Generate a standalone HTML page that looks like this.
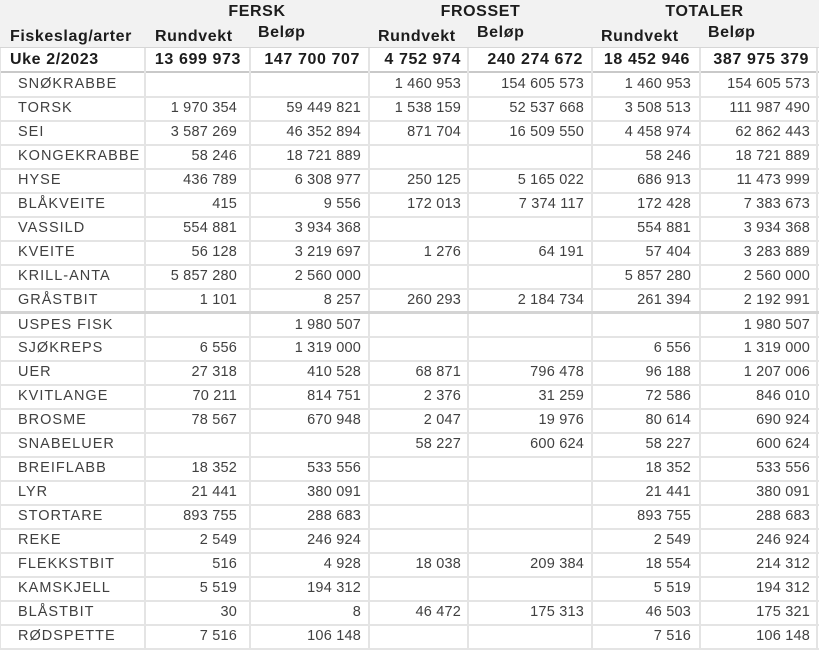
<!DOCTYPE html>
<html><head><meta charset="utf-8">
<style>
*{margin:0;padding:0;box-sizing:border-box}
html,body{width:819px;height:650px;overflow:hidden;background:#fff}
body{position:relative;font-family:"Liberation Sans",Arial,sans-serif}
.hbg{position:absolute;left:0;top:0;width:819px;height:48px;background:#f2f2f2}
.h{position:absolute;font-weight:bold;font-size:16px;letter-spacing:0.6px;color:#1c1c1c;white-space:nowrap;line-height:24px;height:24px}
.hl{position:absolute;left:0;width:819px;background:#e4e4e4;height:2px}
.vl{position:absolute;top:48px;height:602px;width:2px;background:#e4e4e4}
.row{position:absolute;left:0;width:819px;height:24px;line-height:24px;font-size:14.5px;color:#404040;letter-spacing:0.2px;white-space:nowrap}
.row div{position:absolute;top:0}
.n{left:18px;letter-spacing:1px}
.c2{right:582px}.c3{right:458px}.c4{right:358px}.c5{right:235px}.c6{right:128px}.c7{right:9px}
.uk{position:absolute;left:0;top:48px;width:819px;height:24px;line-height:24px;font-size:16px;font-weight:bold;letter-spacing:0.6px;color:#1c1c1c;white-space:nowrap}
.uk div{position:absolute;top:0}
</style></head><body>
<div class="hbg"></div>

<div class="h" style="left:145px;width:224px;text-align:center;top:0">FERSK</div>
<div class="h" style="left:369px;width:223px;text-align:center;top:0">FROSSET</div>
<div class="h" style="left:592px;width:225px;text-align:center;top:0">TOTALER</div>

<div class="h" style="left:10px;top:25px">Fiskeslag/arter</div>
<div class="h" style="left:155px;top:25px">Rundvekt</div>
<div class="h" style="left:258px;top:21px">Beløp</div>
<div class="h" style="left:378px;top:25px">Rundvekt</div>
<div class="h" style="left:477px;top:21px">Beløp</div>
<div class="h" style="left:601px;top:25px">Rundvekt</div>
<div class="h" style="left:708px;top:21px">Beløp</div>

<div class="hl" style="top:47px;height:1px;background:#d6d6d6"></div>
<div class="hl" style="top:71px;background:#c9c9c9"></div>

<div class="vl" style="left:0;width:1px"></div>
<div class="vl" style="left:144px"></div>
<div class="vl" style="left:249px"></div>
<div class="vl" style="left:368px"></div>
<div class="vl" style="left:467px"></div>
<div class="vl" style="left:591px"></div>
<div class="vl" style="left:699px"></div>
<div class="vl" style="left:816px"></div>

<div class="hl" style="top:96px"></div>
<div class="hl" style="top:120px"></div>
<div class="hl" style="top:144px"></div>
<div class="hl" style="top:168px"></div>
<div class="hl" style="top:192px"></div>
<div class="hl" style="top:216px"></div>
<div class="hl" style="top:240px"></div>
<div class="hl" style="top:264px"></div>
<div class="hl" style="top:288px"></div>
<div class="hl" style="top:311px;height:3px;background:#d4d4d4"></div>
<div class="hl" style="top:336px"></div>
<div class="hl" style="top:360px"></div>
<div class="hl" style="top:384px"></div>
<div class="hl" style="top:408px"></div>
<div class="hl" style="top:432px"></div>
<div class="hl" style="top:456px"></div>
<div class="hl" style="top:480px"></div>
<div class="hl" style="top:504px"></div>
<div class="hl" style="top:528px"></div>
<div class="hl" style="top:552px"></div>
<div class="hl" style="top:576px"></div>
<div class="hl" style="top:600px"></div>
<div class="hl" style="top:624px"></div>
<div class="hl" style="top:648px"></div>

<div class="uk">
<div style="left:10px">Uke 2/2023</div>
<div class="c2" style="right:578px">13 699 973</div>
<div class="c3" style="right:459px">147 700 707</div>
<div class="c4">4 752 974</div>
<div class="c5" style="right:236px">240 274 672</div>
<div class="c6" style="right:129px">18 452 946</div>
<div class="c7" style="right:10px">387 975 379</div>
</div>

<div class="row" style="top:72px"><div class="n">SNØKRABBE</div><div class="c4">1 460 953</div><div class="c5">154 605 573</div><div class="c6">1 460 953</div><div class="c7">154 605 573</div></div>
<div class="row" style="top:96px"><div class="n">TORSK</div><div class="c2">1 970 354</div><div class="c3">59 449 821</div><div class="c4">1 538 159</div><div class="c5">52 537 668</div><div class="c6">3 508 513</div><div class="c7">111 987 490</div></div>
<div class="row" style="top:120px"><div class="n">SEI</div><div class="c2">3 587 269</div><div class="c3">46 352 894</div><div class="c4">871 704</div><div class="c5">16 509 550</div><div class="c6">4 458 974</div><div class="c7">62 862 443</div></div>
<div class="row" style="top:144px"><div class="n">KONGEKRABBE</div><div class="c2">58 246</div><div class="c3">18 721 889</div><div class="c6">58 246</div><div class="c7">18 721 889</div></div>
<div class="row" style="top:168px"><div class="n">HYSE</div><div class="c2">436 789</div><div class="c3">6 308 977</div><div class="c4">250 125</div><div class="c5">5 165 022</div><div class="c6">686 913</div><div class="c7">11 473 999</div></div>
<div class="row" style="top:192px"><div class="n">BLÅKVEITE</div><div class="c2">415</div><div class="c3">9 556</div><div class="c4">172 013</div><div class="c5">7 374 117</div><div class="c6">172 428</div><div class="c7">7 383 673</div></div>
<div class="row" style="top:216px"><div class="n">VASSILD</div><div class="c2">554 881</div><div class="c3">3 934 368</div><div class="c6">554 881</div><div class="c7">3 934 368</div></div>
<div class="row" style="top:240px"><div class="n">KVEITE</div><div class="c2">56 128</div><div class="c3">3 219 697</div><div class="c4">1 276</div><div class="c5">64 191</div><div class="c6">57 404</div><div class="c7">3 283 889</div></div>
<div class="row" style="top:264px"><div class="n">KRILL-ANTA</div><div class="c2">5 857 280</div><div class="c3">2 560 000</div><div class="c6">5 857 280</div><div class="c7">2 560 000</div></div>
<div class="row" style="top:288px"><div class="n">GRÅSTBIT</div><div class="c2">1 101</div><div class="c3">8 257</div><div class="c4">260 293</div><div class="c5">2 184 734</div><div class="c6">261 394</div><div class="c7">2 192 991</div></div>
<div class="row" style="top:313px"><div class="n">USPES FISK</div><div class="c3">1 980 507</div><div class="c7">1 980 507</div></div>
<div class="row" style="top:336px"><div class="n">SJØKREPS</div><div class="c2">6 556</div><div class="c3">1 319 000</div><div class="c6">6 556</div><div class="c7">1 319 000</div></div>
<div class="row" style="top:360px"><div class="n">UER</div><div class="c2">27 318</div><div class="c3">410 528</div><div class="c4">68 871</div><div class="c5">796 478</div><div class="c6">96 188</div><div class="c7">1 207 006</div></div>
<div class="row" style="top:384px"><div class="n">KVITLANGE</div><div class="c2">70 211</div><div class="c3">814 751</div><div class="c4">2 376</div><div class="c5">31 259</div><div class="c6">72 586</div><div class="c7">846 010</div></div>
<div class="row" style="top:408px"><div class="n">BROSME</div><div class="c2">78 567</div><div class="c3">670 948</div><div class="c4">2 047</div><div class="c5">19 976</div><div class="c6">80 614</div><div class="c7">690 924</div></div>
<div class="row" style="top:432px"><div class="n">SNABELUER</div><div class="c4">58 227</div><div class="c5">600 624</div><div class="c6">58 227</div><div class="c7">600 624</div></div>
<div class="row" style="top:456px"><div class="n">BREIFLABB</div><div class="c2">18 352</div><div class="c3">533 556</div><div class="c6">18 352</div><div class="c7">533 556</div></div>
<div class="row" style="top:480px"><div class="n">LYR</div><div class="c2">21 441</div><div class="c3">380 091</div><div class="c6">21 441</div><div class="c7">380 091</div></div>
<div class="row" style="top:504px"><div class="n">STORTARE</div><div class="c2">893 755</div><div class="c3">288 683</div><div class="c6">893 755</div><div class="c7">288 683</div></div>
<div class="row" style="top:528px"><div class="n">REKE</div><div class="c2">2 549</div><div class="c3">246 924</div><div class="c6">2 549</div><div class="c7">246 924</div></div>
<div class="row" style="top:552px"><div class="n">FLEKKSTBIT</div><div class="c2">516</div><div class="c3">4 928</div><div class="c4">18 038</div><div class="c5">209 384</div><div class="c6">18 554</div><div class="c7">214 312</div></div>
<div class="row" style="top:576px"><div class="n">KAMSKJELL</div><div class="c2">5 519</div><div class="c3">194 312</div><div class="c6">5 519</div><div class="c7">194 312</div></div>
<div class="row" style="top:600px"><div class="n">BLÅSTBIT</div><div class="c2">30</div><div class="c3">8</div><div class="c4">46 472</div><div class="c5">175 313</div><div class="c6">46 503</div><div class="c7">175 321</div></div>
<div class="row" style="top:624px"><div class="n">RØDSPETTE</div><div class="c2">7 516</div><div class="c3">106 148</div><div class="c6">7 516</div><div class="c7">106 148</div></div>
</body></html>
